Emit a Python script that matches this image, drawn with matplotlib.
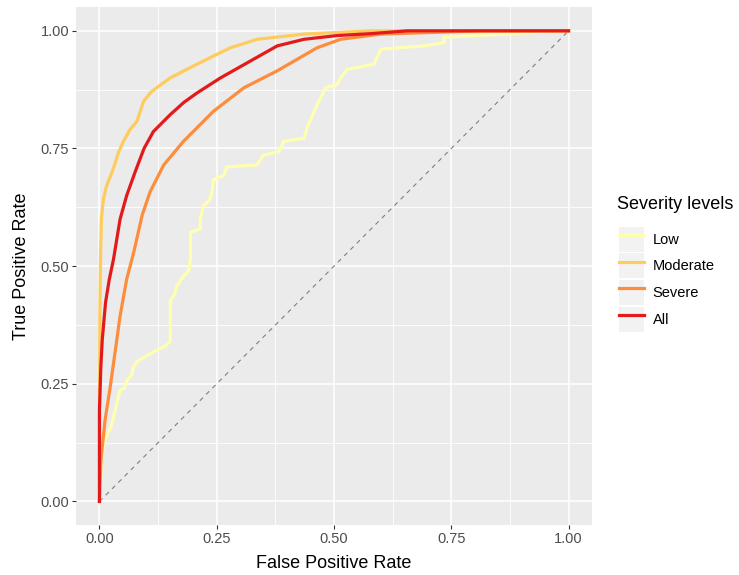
import matplotlib
matplotlib.use("Agg")
import matplotlib.pyplot as plt
from matplotlib.lines import Line2D
from matplotlib.patches import Patch
from matplotlib.legend_handler import HandlerLine2D, HandlerTuple

plt.rcParams["font.family"] = ["Liberation Sans", "DejaVu Sans"]

# ROC curves (FPR, TPR)
low_fpr = [0, 0.003, 0.005, 0.012, 0.019, 0.025, 0.030, 0.035, 0.040, 0.044, 0.052, 0.059,
           0.069, 0.072, 0.080, 0.098, 0.123, 0.140, 0.151, 0.151, 0.160, 0.165, 0.179, 0.190,
           0.194, 0.194, 0.215, 0.215, 0.222, 0.235, 0.240, 0.243, 0.265, 0.272, 0.336, 0.350,
           0.382, 0.393, 0.436, 0.445, 0.450, 0.464, 0.482, 0.507, 0.514, 0.528, 0.585, 0.600,
           0.692, 0.735, 0.735, 0.80, 0.90, 1.0]
low_tpr = [0, 0.05, 0.10, 0.13, 0.148, 0.16, 0.18, 0.20, 0.22, 0.237, 0.24, 0.258,
           0.269, 0.285, 0.297, 0.308, 0.322, 0.330, 0.340, 0.426, 0.44, 0.458, 0.479, 0.49,
           0.515, 0.572, 0.579, 0.60, 0.629, 0.64, 0.658, 0.683, 0.693, 0.711, 0.715, 0.736,
           0.743, 0.765, 0.772, 0.80, 0.811, 0.843, 0.879, 0.886, 0.900, 0.918, 0.929, 0.961,
           0.968, 0.975, 0.986, 0.99, 0.995, 1.0]

moderate_fpr = [0, 0, 0.001, 0.002, 0.004, 0.0085, 0.015, 0.030, 0.040, 0.051, 0.065, 0.080,
                0.094, 0.110, 0.126, 0.151, 0.180, 0.208, 0.240, 0.279, 0.336, 0.436, 0.578, 1.0]
moderate_tpr = [0, 0.20, 0.40, 0.50, 0.60, 0.643, 0.67, 0.708, 0.74, 0.765, 0.79, 0.808,
                0.850, 0.87, 0.882, 0.900, 0.915, 0.929, 0.945, 0.964, 0.982, 0.993, 1.0, 1.0]

severe_fpr = [0, 0.003, 0.012, 0.023, 0.034, 0.044, 0.058, 0.073, 0.091, 0.108, 0.137, 0.179,
              0.243, 0.308, 0.379, 0.464, 0.514, 0.600, 0.813, 1.0]
severe_tpr = [0, 0.087, 0.173, 0.244, 0.322, 0.394, 0.472, 0.529, 0.608, 0.658, 0.715, 0.765,
              0.829, 0.879, 0.915, 0.964, 0.982, 0.993, 1.0, 1.0]

all_fpr = [0, 0, 0.003, 0.006, 0.013, 0.021, 0.030, 0.044, 0.058, 0.076, 0.095, 0.115, 0.151,
           0.180, 0.208, 0.258, 0.322, 0.379, 0.436, 0.507, 0.578, 0.657, 1.0]
all_tpr = [0, 0.194, 0.287, 0.344, 0.423, 0.472, 0.515, 0.600, 0.650, 0.700, 0.75, 0.786, 0.822,
           0.848, 0.868, 0.900, 0.936, 0.968, 0.982, 0.990, 0.994, 1.0, 1.0]

labels = ["Low", "Moderate", "Severe", "All"]
colors = ["#FFFFB2", "#FECC5C", "#FD8D3C", "#E31A1C"]
curves = [(low_fpr, low_tpr), (moderate_fpr, moderate_tpr),
          (severe_fpr, severe_tpr), (all_fpr, all_tpr)]
ticks = [0.0, 0.25, 0.5, 0.75, 1.0]
tick_labels = ["0.00", "0.25", "0.50", "0.75", "1.00"]
minor_ticks = [0.125, 0.375, 0.625, 0.875]

fig = plt.figure(figsize=(7.39, 5.75), dpi=100)
ax = fig.add_axes([76 / 739, 1 - 525 / 575, 516 / 739, 517.7 / 575])
ax.set_facecolor("#EBEBEB")
for s in ax.spines.values():
    s.set_visible(False)

ax.set_xlim(-0.05, 1.05)
ax.set_ylim(-0.05, 1.05)
ax.set_xticks(ticks)
ax.set_xticklabels(tick_labels)
ax.set_yticks(ticks)
ax.set_yticklabels(tick_labels)
ax.set_xticks(minor_ticks, minor=True)
ax.set_yticks(minor_ticks, minor=True)
ax.grid(which="major", color="white", linewidth=1.1)
ax.grid(which="minor", color="white", linewidth=0.6)
ax.set_axisbelow(True)
ax.tick_params(which="major", length=3, width=0.8, color="#333333", pad=2,
               labelsize=10.5, labelcolor="#4D4D4D")
ax.tick_params(which="minor", length=0)

ax.plot([0, 1], [0, 1], color="#7F7F7F", linestyle=(0, (4, 4)), linewidth=0.8, zorder=2)

lw = 2.3
handles = []
for (fx, ty), col, lab in zip(curves, colors, labels):
    ax.plot(fx, ty, color=col, linewidth=lw, solid_joinstyle="miter", zorder=3)
    handles.append((Patch(facecolor="#F2F2F2", edgecolor="none"),
                    Line2D([], [], color=col, linewidth=lw)))

ax.set_xlabel("False Positive Rate", fontsize=13, color="black", va="center")
ax.set_ylabel("True Positive Rate", fontsize=13, color="black", va="center")
ax.xaxis.set_label_coords(0.5, (525 - 563) / 517.7)
ax.yaxis.set_label_coords((22 - 76) / 516, 0.5)

fig.text(617 / 739, 1 - 205 / 575, "Severity levels", fontsize=13, ha="left", va="center")
fig.legend(handles, labels,
           handler_map={tuple: HandlerTuple(ndivide=1),
                        Line2D: HandlerLine2D(marker_pad=0.15)},
           loc="upper left", bbox_to_anchor=(619 / 739, 1 - 226.7 / 575),
           bbox_transform=fig.transFigure, frameon=False, borderpad=0, borderaxespad=0,
           fontsize=10.5, handlelength=1.7, handleheight=2.25, labelspacing=0.12,
           handletextpad=0.6)

fig.savefig("out.png", dpi=100)
